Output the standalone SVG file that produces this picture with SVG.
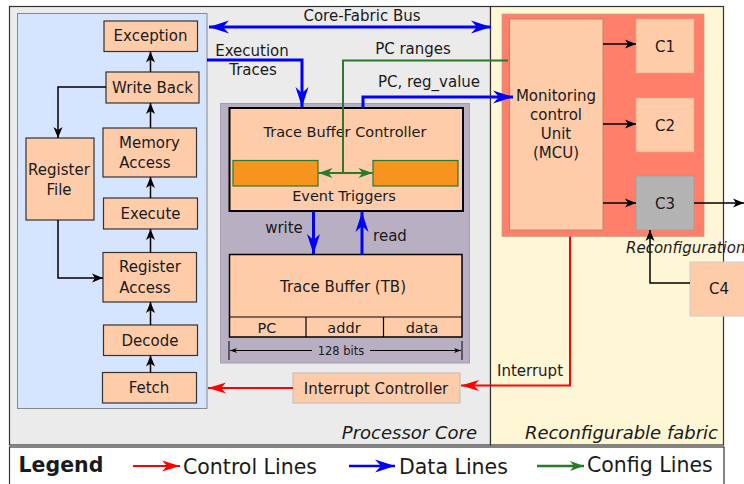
<svg xmlns="http://www.w3.org/2000/svg" width="744" height="484" viewBox="0 0 744 484">
<style>
text{font-family:"DejaVu Sans","Verdana",sans-serif;font-size:15px;fill:#1a1a1a}
.c{text-anchor:middle}
.it{font-style:italic;font-size:18px}
.box{fill:#ffccaa;stroke:#333;stroke-width:1.2}
.blk{fill:none;stroke:#000;stroke-width:1.5}
.blu{fill:none;stroke:#0000ff;stroke-width:3}
.red{fill:none;stroke:#ff0000;stroke-width:2}
.grn{fill:none;stroke:#2a7a2a;stroke-width:2}
.lg{font-size:20.5px}
</style>
<defs>
<marker id="ak" markerUnits="userSpaceOnUse" markerWidth="14" markerHeight="12" viewBox="-1 -6 13 12" refX="11" refY="0" orient="auto-start-reverse"><path d="M0,-4.5 L11,0 L0,4.5 L3,0 Z" fill="#000"/></marker>
<marker id="ab" markerUnits="userSpaceOnUse" markerWidth="22" markerHeight="16" viewBox="-1 -8 22 16" refX="20" refY="0" orient="auto-start-reverse"><path d="M0,-6.5 L20,0 L0,6.5 L6,0 Z" fill="#0000ff"/></marker>
<marker id="ar" markerUnits="userSpaceOnUse" markerWidth="20" markerHeight="14" viewBox="-1 -7 20 14" refX="18" refY="0" orient="auto-start-reverse"><path d="M0,-5.5 L18,0 L0,5.5 L5,0 Z" fill="#ff0000"/></marker>
<marker id="ag" markerUnits="userSpaceOnUse" markerWidth="16" markerHeight="12" viewBox="-1 -6 16 12" refX="14" refY="0" orient="auto-start-reverse"><path d="M0,-5 L14,0 L0,5 L4,0 Z" fill="#2a7a2a"/></marker>
</defs>

<!-- background regions -->
<g id="processor-core">
<rect x="9.5" y="6.5" width="481" height="438.5" fill="#ebebeb" stroke="#333" stroke-width="1.2"/>
<text class="it" x="477" y="439" text-anchor="end">Processor Core</text>
</g>
<g id="reconfigurable-fabric">
<rect x="490.5" y="6.5" width="233" height="438.5" fill="#fff6d5" stroke="#333" stroke-width="1.2"/>
<text class="it" x="718" y="439" text-anchor="end">Reconfigurable fabric</text>
</g>
<g id="pipeline-panel"><rect x="17.5" y="13.5" width="189.5" height="395" fill="#d5e5ff" stroke="#888" stroke-width="1"/></g>
<g id="trace-panel"><rect x="220.5" y="103.5" width="249" height="259.5" fill="#b9afc2" stroke="#a59cae" stroke-width="1"/></g>
<g id="mcu-container"><rect x="502" y="14" width="202" height="222.5" fill="#ff7f6b" stroke="#c8a08a" stroke-width="0.8"/></g>

<!-- pipeline nodes -->
<g id="exception"><rect class="box" x="104" y="21" width="93.5" height="30.5"/><text class="c" x="150.5" y="41">Exception</text></g>
<g id="write-back"><rect class="box" x="106" y="72" width="93" height="31"/><text class="c" x="152.5" y="93">Write Back</text></g>
<g id="memory-access"><rect class="box" x="103" y="128" width="93.5" height="49"/><text class="c" x="149.5" y="148">Memory</text><text class="c" x="145" y="168">Access</text></g>
<g id="execute"><rect class="box" x="103.5" y="198" width="94" height="31"/><text class="c" x="150.5" y="219">Execute</text></g>
<g id="register-access"><rect class="box" x="103" y="252.5" width="93.5" height="49.5"/><text class="c" x="150" y="272">Register</text><text class="c" x="145" y="292.5">Access</text></g>
<g id="decode"><rect class="box" x="103.5" y="325" width="94" height="30.5"/><text class="c" x="150" y="345.5">Decode</text></g>
<g id="fetch"><rect class="box" x="102.5" y="372.5" width="94" height="30.5"/><text class="c" x="149" y="392.5">Fetch</text></g>
<g id="register-file"><rect class="box" x="26" y="138" width="68" height="82"/><text class="c" x="59" y="175">Register</text><text class="c" x="59" y="195">File</text></g>

<!-- trace buffer controller -->
<g id="trace-buffer-controller">
<rect x="229.5" y="108" width="233.5" height="103" fill="#ffccaa" stroke="#000" stroke-width="2"/>
<text class="c" x="345" y="137" style="font-size:14.5px">Trace Buffer Controller</text>
<rect x="233" y="160.5" width="85" height="25.5" fill="#f7941e" stroke="#2a7a2a" stroke-width="1.2"/>
<rect x="373" y="160.5" width="85" height="25.5" fill="#f7941e" stroke="#2a7a2a" stroke-width="1.2"/>
<text class="c" x="344" y="200.5" style="font-size:14.5px">Event Triggers</text>
</g>
<g id="trace-buffer">
<rect x="229.5" y="254.5" width="232.5" height="82.5" fill="#ffccaa" stroke="#000" stroke-width="1.5"/>
<path d="M229.5,317 H462 M306,317 V337 M383.5,317 V337" stroke="#000" stroke-width="1.2" fill="none"/>
<text class="c" x="343" y="292">Trace Buffer (TB)</text>
<text class="c" x="267" y="333" style="font-size:14.5px">PC</text>
<text class="c" x="344" y="333" style="font-size:14.5px">addr</text>
<text class="c" x="422" y="333" style="font-size:14.5px">data</text>
<path d="M229,341 V360 M462,341 V360" stroke="#000" stroke-width="1" fill="none"/>
<path d="M230,350.5 H312 M370,350.5 H461" stroke="#000" stroke-width="1" fill="none"/>
<path d="M230,350.5 l7,-2.5 l-2,2.5 l2,2.5 Z M461,350.5 l-7,-2.5 l2,2.5 l-2,2.5 Z" fill="#000"/>
<text class="c" x="341" y="355" style="font-size:11.5px">128 bits</text>
</g>
<g id="interrupt-controller"><rect x="293" y="373" width="167" height="30" fill="#ffccaa" stroke="#bbb" stroke-width="1"/><text class="c" x="376" y="393.5">Interrupt Controller</text></g>

<!-- fabric nodes -->
<g id="mcu"><rect x="509.5" y="19" width="93.5" height="211" fill="#ffccaa" stroke="#b27a5e" stroke-width="0.8"/>
<text class="c" x="556" y="101">Monitoring</text><text class="c" x="556" y="120">control</text><text class="c" x="556" y="139">Unit</text><text class="c" x="556" y="158">(MCU)</text></g>
<g id="c1"><rect x="636" y="19" width="58" height="54" fill="#ffccaa" stroke="#e0a888" stroke-width="0.6"/><text class="c" x="665" y="52">C1</text></g>
<g id="c2"><rect x="636" y="98" width="58" height="54" fill="#ffccaa" stroke="#e0a888" stroke-width="0.6"/><text class="c" x="665" y="131">C2</text></g>
<g id="c3"><rect x="636" y="176" width="58" height="54" fill="#b3b3b3" stroke="#999" stroke-width="0.6"/><text class="c" x="665" y="209">C3</text></g>
<g id="c4"><rect x="690" y="262" width="60" height="54" fill="#ffccaa" stroke="#ccc" stroke-width="1"/><text class="c" x="719" y="294">C4</text></g>

<!-- connectors -->
<g id="connectors">
<path class="blk" d="M150.5,72 V51.5" marker-end="url(#ak)"/>
<path class="blk" d="M150.5,128 V103" marker-end="url(#ak)"/>
<path class="blk" d="M150.5,198 V177" marker-end="url(#ak)"/>
<path class="blk" d="M150.5,252.5 V229" marker-end="url(#ak)"/>
<path class="blk" d="M150.5,325 V302" marker-end="url(#ak)"/>
<path class="blk" d="M150.5,372.5 V355.5" marker-end="url(#ak)"/>
<path class="blk" d="M106,87 H58 V138" marker-end="url(#ak)"/>
<path class="blk" d="M58,220 V278 H103" marker-end="url(#ak)"/>
<path class="blk" d="M603,44 H636" marker-end="url(#ak)"/>
<path class="blk" d="M603,124 H636" marker-end="url(#ak)"/>
<path class="blk" d="M603,203 H636" marker-end="url(#ak)"/>
<path class="blk" d="M694,203 H744" marker-end="url(#ak)"/>
<path class="blk" d="M690,283 H650 V230" marker-end="url(#ak)"/>

<path class="blu" d="M209,27 H491" marker-start="url(#ab)" marker-end="url(#ab)"/>
<path class="blu" d="M207,60 H302 V107" marker-end="url(#ab)"/>
<path class="blu" d="M363,108 V97 H513" marker-end="url(#ab)"/>
<path class="blu" d="M313.5,211 V254" marker-end="url(#ab)"/>
<path class="blu" d="M362,254.5 V212" marker-end="url(#ab)"/>

<path class="grn" d="M508,60.5 H343 V173"/>
<path class="grn" d="M318.5,173 H372.5" marker-start="url(#ag)" marker-end="url(#ag)"/>

<path class="red" d="M293,388 H208" marker-end="url(#ar)"/>
<path class="red" d="M570,236.5 V385.5 H461" marker-end="url(#ar)"/>

<text class="c" x="362" y="21">Core-Fabric Bus</text>
<text class="c" x="252" y="56">Execution</text>
<text class="c" x="253" y="75">Traces</text>
<text class="c" x="413" y="54">PC ranges</text>
<text class="c" x="429" y="87">PC, reg_value</text>
<text class="c" x="284" y="232.5">write</text>
<text class="c" x="390" y="240.5">read</text>
<text x="497" y="376">Interrupt</text>
<text x="626" y="253" style="font-style:italic">Reconfiguration</text>
</g>

<!-- legend -->
<g id="legend">
<rect x="9.5" y="447" width="714.5" height="40" fill="#fff" stroke="#333" stroke-width="1.2"/>
<text x="18.5" y="472" class="lg" style="font-weight:bold">Legend</text>
<path class="red" d="M133,466 H180" marker-end="url(#ar)"/>
<text x="183" y="474" class="lg">Control Lines</text>
<path class="blu" d="M349,466 H395" style="stroke-width:2.5" marker-end="url(#ab)"/>
<text x="399" y="474" class="lg">Data Lines</text>
<path class="grn" d="M537,466 H584" style="stroke-width:2.5" marker-end="url(#ag)"/>
<text x="587" y="472" class="lg">Config Lines</text>
</g>
</svg>
